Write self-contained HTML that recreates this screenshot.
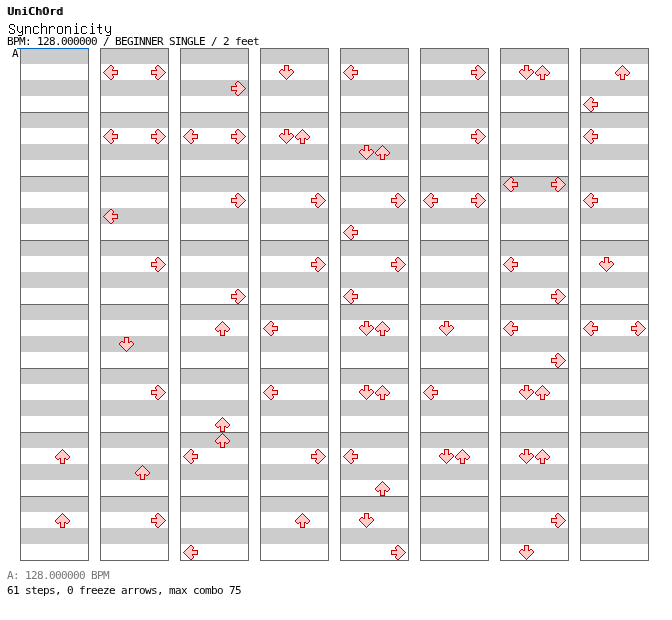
<!DOCTYPE html>
<html><head><meta charset="utf-8"><title>Synchronicity</title><style>
html,body{margin:0;padding:0;background:#fff}
body{width:672px;height:620px;position:relative;overflow:hidden;color:#000}
.t{position:absolute;left:8px;white-space:pre;margin:0;will-change:transform}
.h1{font:11px/14px 'DejaVu Sans Mono',monospace;top:5px;left:7px;letter-spacing:0.38px;text-shadow:1px 0 0 #000}
.h2{font:16px/16px 'Unifont','IPAGothic',monospace;top:20px}
.s{font:11px/12px 'DejaVu Sans Mono',monospace;letter-spacing:-0.62px}
.h3{top:36px;left:7px}
.f1{top:570px;left:7px;color:#777}
.f2{top:585px;left:7px}
.lbl{left:12px;top:48px}
.b{position:absolute;width:69px;height:65px;box-sizing:border-box;border:1px solid #666;
background:linear-gradient(#ccc 0 15px,#fff 15px 31px,#ccc 31px 47px,#fff 47px)}
.bl{position:absolute;left:17px;top:48px;width:72px;height:1px;background:#0066cc}
i{position:absolute;width:1px;height:1px;display:block}
.L{box-shadow:1px 8px #cc0000,2px 7px #cc0000,2px 9px #cc0000,3px 6px #cc0000,3px 10px #cc0000,4px 5px #cc0000,4px 11px #cc0000,5px 4px #cc0000,5px 12px #cc0000,6px 3px #cc0000,6px 13px #cc0000,7px 2px #cc0000,7px 14px #cc0000,8px 1px #cc0000,8px 15px #cc0000,9px 1px #cc0000,9px 15px #cc0000,10px 2px #cc0000,10px 5px #cc0000,10px 6px #cc0000,10px 10px #cc0000,10px 11px #cc0000,10px 14px #cc0000,11px 3px #cc0000,11px 4px #cc0000,11px 6px #cc0000,11px 10px #cc0000,11px 12px #cc0000,11px 13px #cc0000,12px 6px #cc0000,12px 10px #cc0000,13px 6px #cc0000,13px 10px #cc0000,14px 6px #cc0000,14px 10px #cc0000,15px 6px #cc0000,15px 7px #cc0000,15px 8px #cc0000,15px 9px #cc0000,15px 10px #cc0000,2px 8px #ffcccc,3px 7px #ffcccc,3px 9px #ffcccc,4px 6px #ffcccc,4px 10px #ffcccc,5px 5px #ffcccc,5px 11px #ffcccc,6px 4px #ffcccc,6px 12px #ffcccc,7px 3px #ffcccc,7px 13px #ffcccc,8px 2px #ffcccc,8px 14px #ffcccc,9px 2px #ffcccc,9px 5px #ffcccc,9px 6px #ffcccc,9px 10px #ffcccc,9px 11px #ffcccc,9px 14px #ffcccc,10px 3px #ffcccc,10px 4px #ffcccc,10px 7px #ffcccc,10px 9px #ffcccc,10px 12px #ffcccc,10px 13px #ffcccc,11px 7px #ffcccc,11px 9px #ffcccc,12px 7px #ffcccc,12px 9px #ffcccc,13px 7px #ffcccc,13px 9px #ffcccc,14px 7px #ffcccc,14px 8px #ffcccc,14px 9px #ffcccc,3px 8px #ffcccc,4px 7px #ffcccc,4px 8px #ffcccc,4px 9px #ffcccc,5px 6px #ffcccc,5px 7px #ffcccc,5px 8px #ffcccc,5px 9px #ffcccc,5px 10px #ffcccc,6px 5px #ffcccc,6px 6px #ffcccc,6px 7px #ffcccc,6px 8px #ffcccc,6px 9px #ffcccc,6px 10px #ffcccc,6px 11px #ffcccc,7px 4px #ffcccc,7px 5px #ffcccc,7px 6px #ffcccc,7px 7px #ffcccc,7px 8px #ffcccc,7px 9px #ffcccc,7px 10px #ffcccc,7px 11px #ffcccc,7px 12px #ffcccc,8px 3px #ffcccc,8px 4px #ffcccc,8px 5px #ffcccc,8px 6px #ffcccc,8px 7px #ffcccc,8px 8px #ffcccc,8px 9px #ffcccc,8px 10px #ffcccc,8px 11px #ffcccc,8px 12px #ffcccc,8px 13px #ffcccc,9px 3px #ffcccc,9px 4px #ffcccc,9px 7px #ffcccc,9px 8px #ffcccc,9px 9px #ffcccc,9px 12px #ffcccc,9px 13px #ffcccc,10px 8px #ffcccc,11px 8px #ffcccc,12px 8px #ffcccc,13px 8px #ffcccc}
.R{box-shadow:15px 8px #cc0000,14px 7px #cc0000,14px 9px #cc0000,13px 6px #cc0000,13px 10px #cc0000,12px 5px #cc0000,12px 11px #cc0000,11px 4px #cc0000,11px 12px #cc0000,10px 3px #cc0000,10px 13px #cc0000,9px 2px #cc0000,9px 14px #cc0000,8px 1px #cc0000,8px 15px #cc0000,7px 1px #cc0000,7px 15px #cc0000,6px 2px #cc0000,6px 5px #cc0000,6px 6px #cc0000,6px 10px #cc0000,6px 11px #cc0000,6px 14px #cc0000,5px 3px #cc0000,5px 4px #cc0000,5px 6px #cc0000,5px 10px #cc0000,5px 12px #cc0000,5px 13px #cc0000,4px 6px #cc0000,4px 10px #cc0000,3px 6px #cc0000,3px 10px #cc0000,2px 6px #cc0000,2px 10px #cc0000,1px 6px #cc0000,1px 7px #cc0000,1px 8px #cc0000,1px 9px #cc0000,1px 10px #cc0000,14px 8px #ffcccc,13px 7px #ffcccc,13px 9px #ffcccc,12px 6px #ffcccc,12px 10px #ffcccc,11px 5px #ffcccc,11px 11px #ffcccc,10px 4px #ffcccc,10px 12px #ffcccc,9px 3px #ffcccc,9px 13px #ffcccc,8px 2px #ffcccc,8px 14px #ffcccc,7px 2px #ffcccc,7px 5px #ffcccc,7px 6px #ffcccc,7px 10px #ffcccc,7px 11px #ffcccc,7px 14px #ffcccc,6px 3px #ffcccc,6px 4px #ffcccc,6px 7px #ffcccc,6px 9px #ffcccc,6px 12px #ffcccc,6px 13px #ffcccc,5px 7px #ffcccc,5px 9px #ffcccc,4px 7px #ffcccc,4px 9px #ffcccc,3px 7px #ffcccc,3px 9px #ffcccc,2px 7px #ffcccc,2px 8px #ffcccc,2px 9px #ffcccc,13px 8px #ffcccc,12px 7px #ffcccc,12px 8px #ffcccc,12px 9px #ffcccc,11px 6px #ffcccc,11px 7px #ffcccc,11px 8px #ffcccc,11px 9px #ffcccc,11px 10px #ffcccc,10px 5px #ffcccc,10px 6px #ffcccc,10px 7px #ffcccc,10px 8px #ffcccc,10px 9px #ffcccc,10px 10px #ffcccc,10px 11px #ffcccc,9px 4px #ffcccc,9px 5px #ffcccc,9px 6px #ffcccc,9px 7px #ffcccc,9px 8px #ffcccc,9px 9px #ffcccc,9px 10px #ffcccc,9px 11px #ffcccc,9px 12px #ffcccc,8px 3px #ffcccc,8px 4px #ffcccc,8px 5px #ffcccc,8px 6px #ffcccc,8px 7px #ffcccc,8px 8px #ffcccc,8px 9px #ffcccc,8px 10px #ffcccc,8px 11px #ffcccc,8px 12px #ffcccc,8px 13px #ffcccc,7px 3px #ffcccc,7px 4px #ffcccc,7px 7px #ffcccc,7px 8px #ffcccc,7px 9px #ffcccc,7px 12px #ffcccc,7px 13px #ffcccc,6px 8px #ffcccc,5px 8px #ffcccc,4px 8px #ffcccc,3px 8px #ffcccc}
.U{box-shadow:8px 1px #cc0000,7px 2px #cc0000,9px 2px #cc0000,6px 3px #cc0000,10px 3px #cc0000,5px 4px #cc0000,11px 4px #cc0000,4px 5px #cc0000,12px 5px #cc0000,3px 6px #cc0000,13px 6px #cc0000,2px 7px #cc0000,14px 7px #cc0000,1px 8px #cc0000,15px 8px #cc0000,1px 9px #cc0000,15px 9px #cc0000,2px 10px #cc0000,5px 10px #cc0000,6px 10px #cc0000,10px 10px #cc0000,11px 10px #cc0000,14px 10px #cc0000,3px 11px #cc0000,4px 11px #cc0000,6px 11px #cc0000,10px 11px #cc0000,12px 11px #cc0000,13px 11px #cc0000,6px 12px #cc0000,10px 12px #cc0000,6px 13px #cc0000,10px 13px #cc0000,6px 14px #cc0000,10px 14px #cc0000,6px 15px #cc0000,7px 15px #cc0000,8px 15px #cc0000,9px 15px #cc0000,10px 15px #cc0000,8px 2px #ffcccc,7px 3px #ffcccc,9px 3px #ffcccc,6px 4px #ffcccc,10px 4px #ffcccc,5px 5px #ffcccc,11px 5px #ffcccc,4px 6px #ffcccc,12px 6px #ffcccc,3px 7px #ffcccc,13px 7px #ffcccc,2px 8px #ffcccc,14px 8px #ffcccc,2px 9px #ffcccc,5px 9px #ffcccc,6px 9px #ffcccc,10px 9px #ffcccc,11px 9px #ffcccc,14px 9px #ffcccc,3px 10px #ffcccc,4px 10px #ffcccc,7px 10px #ffcccc,9px 10px #ffcccc,12px 10px #ffcccc,13px 10px #ffcccc,7px 11px #ffcccc,9px 11px #ffcccc,7px 12px #ffcccc,9px 12px #ffcccc,7px 13px #ffcccc,9px 13px #ffcccc,7px 14px #ffcccc,8px 14px #ffcccc,9px 14px #ffcccc,8px 3px #ffcccc,7px 4px #ffcccc,8px 4px #ffcccc,9px 4px #ffcccc,6px 5px #ffcccc,7px 5px #ffcccc,8px 5px #ffcccc,9px 5px #ffcccc,10px 5px #ffcccc,5px 6px #ffcccc,6px 6px #ffcccc,7px 6px #ffcccc,8px 6px #ffcccc,9px 6px #ffcccc,10px 6px #ffcccc,11px 6px #ffcccc,4px 7px #ffcccc,5px 7px #ffcccc,6px 7px #ffcccc,7px 7px #ffcccc,8px 7px #ffcccc,9px 7px #ffcccc,10px 7px #ffcccc,11px 7px #ffcccc,12px 7px #ffcccc,3px 8px #ffcccc,4px 8px #ffcccc,5px 8px #ffcccc,6px 8px #ffcccc,7px 8px #ffcccc,8px 8px #ffcccc,9px 8px #ffcccc,10px 8px #ffcccc,11px 8px #ffcccc,12px 8px #ffcccc,13px 8px #ffcccc,3px 9px #ffcccc,4px 9px #ffcccc,7px 9px #ffcccc,8px 9px #ffcccc,9px 9px #ffcccc,12px 9px #ffcccc,13px 9px #ffcccc,8px 10px #ffcccc,8px 11px #ffcccc,8px 12px #ffcccc,8px 13px #ffcccc}
.D{box-shadow:8px 15px #cc0000,7px 14px #cc0000,9px 14px #cc0000,6px 13px #cc0000,10px 13px #cc0000,5px 12px #cc0000,11px 12px #cc0000,4px 11px #cc0000,12px 11px #cc0000,3px 10px #cc0000,13px 10px #cc0000,2px 9px #cc0000,14px 9px #cc0000,1px 8px #cc0000,15px 8px #cc0000,1px 7px #cc0000,15px 7px #cc0000,2px 6px #cc0000,5px 6px #cc0000,6px 6px #cc0000,10px 6px #cc0000,11px 6px #cc0000,14px 6px #cc0000,3px 5px #cc0000,4px 5px #cc0000,6px 5px #cc0000,10px 5px #cc0000,12px 5px #cc0000,13px 5px #cc0000,6px 4px #cc0000,10px 4px #cc0000,6px 3px #cc0000,10px 3px #cc0000,6px 2px #cc0000,10px 2px #cc0000,6px 1px #cc0000,7px 1px #cc0000,8px 1px #cc0000,9px 1px #cc0000,10px 1px #cc0000,8px 14px #ffcccc,7px 13px #ffcccc,9px 13px #ffcccc,6px 12px #ffcccc,10px 12px #ffcccc,5px 11px #ffcccc,11px 11px #ffcccc,4px 10px #ffcccc,12px 10px #ffcccc,3px 9px #ffcccc,13px 9px #ffcccc,2px 8px #ffcccc,14px 8px #ffcccc,2px 7px #ffcccc,5px 7px #ffcccc,6px 7px #ffcccc,10px 7px #ffcccc,11px 7px #ffcccc,14px 7px #ffcccc,3px 6px #ffcccc,4px 6px #ffcccc,7px 6px #ffcccc,9px 6px #ffcccc,12px 6px #ffcccc,13px 6px #ffcccc,7px 5px #ffcccc,9px 5px #ffcccc,7px 4px #ffcccc,9px 4px #ffcccc,7px 3px #ffcccc,9px 3px #ffcccc,7px 2px #ffcccc,8px 2px #ffcccc,9px 2px #ffcccc,8px 13px #ffcccc,7px 12px #ffcccc,8px 12px #ffcccc,9px 12px #ffcccc,6px 11px #ffcccc,7px 11px #ffcccc,8px 11px #ffcccc,9px 11px #ffcccc,10px 11px #ffcccc,5px 10px #ffcccc,6px 10px #ffcccc,7px 10px #ffcccc,8px 10px #ffcccc,9px 10px #ffcccc,10px 10px #ffcccc,11px 10px #ffcccc,4px 9px #ffcccc,5px 9px #ffcccc,6px 9px #ffcccc,7px 9px #ffcccc,8px 9px #ffcccc,9px 9px #ffcccc,10px 9px #ffcccc,11px 9px #ffcccc,12px 9px #ffcccc,3px 8px #ffcccc,4px 8px #ffcccc,5px 8px #ffcccc,6px 8px #ffcccc,7px 8px #ffcccc,8px 8px #ffcccc,9px 8px #ffcccc,10px 8px #ffcccc,11px 8px #ffcccc,12px 8px #ffcccc,13px 8px #ffcccc,3px 7px #ffcccc,4px 7px #ffcccc,7px 7px #ffcccc,8px 7px #ffcccc,9px 7px #ffcccc,12px 7px #ffcccc,13px 7px #ffcccc,8px 6px #ffcccc,8px 5px #ffcccc,8px 4px #ffcccc,8px 3px #ffcccc}
</style></head>
<body>
<div class="t h1">UniChOrd</div>
<div class="t h2">Synchronicity</div>
<div class="t s h3">BPM: 128.000000 / BEGINNER SINGLE / 2 feet</div>
<div class="b" style="left:20px;top:48px"></div><div class="b" style="left:20px;top:112px"></div><div class="b" style="left:20px;top:176px"></div><div class="b" style="left:20px;top:240px"></div><div class="b" style="left:20px;top:304px"></div><div class="b" style="left:20px;top:368px"></div><div class="b" style="left:20px;top:432px"></div><div class="b" style="left:20px;top:496px"></div><div class="b" style="left:100px;top:48px"></div><div class="b" style="left:100px;top:112px"></div><div class="b" style="left:100px;top:176px"></div><div class="b" style="left:100px;top:240px"></div><div class="b" style="left:100px;top:304px"></div><div class="b" style="left:100px;top:368px"></div><div class="b" style="left:100px;top:432px"></div><div class="b" style="left:100px;top:496px"></div><div class="b" style="left:180px;top:48px"></div><div class="b" style="left:180px;top:112px"></div><div class="b" style="left:180px;top:176px"></div><div class="b" style="left:180px;top:240px"></div><div class="b" style="left:180px;top:304px"></div><div class="b" style="left:180px;top:368px"></div><div class="b" style="left:180px;top:432px"></div><div class="b" style="left:180px;top:496px"></div><div class="b" style="left:260px;top:48px"></div><div class="b" style="left:260px;top:112px"></div><div class="b" style="left:260px;top:176px"></div><div class="b" style="left:260px;top:240px"></div><div class="b" style="left:260px;top:304px"></div><div class="b" style="left:260px;top:368px"></div><div class="b" style="left:260px;top:432px"></div><div class="b" style="left:260px;top:496px"></div><div class="b" style="left:340px;top:48px"></div><div class="b" style="left:340px;top:112px"></div><div class="b" style="left:340px;top:176px"></div><div class="b" style="left:340px;top:240px"></div><div class="b" style="left:340px;top:304px"></div><div class="b" style="left:340px;top:368px"></div><div class="b" style="left:340px;top:432px"></div><div class="b" style="left:340px;top:496px"></div><div class="b" style="left:420px;top:48px"></div><div class="b" style="left:420px;top:112px"></div><div class="b" style="left:420px;top:176px"></div><div class="b" style="left:420px;top:240px"></div><div class="b" style="left:420px;top:304px"></div><div class="b" style="left:420px;top:368px"></div><div class="b" style="left:420px;top:432px"></div><div class="b" style="left:420px;top:496px"></div><div class="b" style="left:500px;top:48px"></div><div class="b" style="left:500px;top:112px"></div><div class="b" style="left:500px;top:176px"></div><div class="b" style="left:500px;top:240px"></div><div class="b" style="left:500px;top:304px"></div><div class="b" style="left:500px;top:368px"></div><div class="b" style="left:500px;top:432px"></div><div class="b" style="left:500px;top:496px"></div><div class="b" style="left:580px;top:48px"></div><div class="b" style="left:580px;top:112px"></div><div class="b" style="left:580px;top:176px"></div><div class="b" style="left:580px;top:240px"></div><div class="b" style="left:580px;top:304px"></div><div class="b" style="left:580px;top:368px"></div><div class="b" style="left:580px;top:432px"></div><div class="b" style="left:580px;top:496px"></div>
<div class="bl"></div>
<div class="t s lbl">A</div>
<i class="U" style="left:54px;top:448px"></i><i class="U" style="left:54px;top:512px"></i><i class="L" style="left:102px;top:64px"></i><i class="R" style="left:150px;top:64px"></i><i class="L" style="left:102px;top:128px"></i><i class="R" style="left:150px;top:128px"></i><i class="L" style="left:102px;top:208px"></i><i class="R" style="left:150px;top:256px"></i><i class="D" style="left:118px;top:336px"></i><i class="R" style="left:150px;top:384px"></i><i class="U" style="left:134px;top:464px"></i><i class="R" style="left:150px;top:512px"></i><i class="R" style="left:230px;top:80px"></i><i class="L" style="left:182px;top:128px"></i><i class="R" style="left:230px;top:128px"></i><i class="R" style="left:230px;top:192px"></i><i class="R" style="left:230px;top:288px"></i><i class="U" style="left:214px;top:320px"></i><i class="U" style="left:214px;top:416px"></i><i class="U" style="left:214px;top:432px"></i><i class="L" style="left:182px;top:448px"></i><i class="L" style="left:182px;top:544px"></i><i class="D" style="left:278px;top:64px"></i><i class="D" style="left:278px;top:128px"></i><i class="U" style="left:294px;top:128px"></i><i class="R" style="left:310px;top:192px"></i><i class="R" style="left:310px;top:256px"></i><i class="L" style="left:262px;top:320px"></i><i class="L" style="left:262px;top:384px"></i><i class="R" style="left:310px;top:448px"></i><i class="U" style="left:294px;top:512px"></i><i class="L" style="left:342px;top:64px"></i><i class="D" style="left:358px;top:144px"></i><i class="U" style="left:374px;top:144px"></i><i class="R" style="left:390px;top:192px"></i><i class="L" style="left:342px;top:224px"></i><i class="R" style="left:390px;top:256px"></i><i class="L" style="left:342px;top:288px"></i><i class="D" style="left:358px;top:320px"></i><i class="U" style="left:374px;top:320px"></i><i class="D" style="left:358px;top:384px"></i><i class="U" style="left:374px;top:384px"></i><i class="L" style="left:342px;top:448px"></i><i class="U" style="left:374px;top:480px"></i><i class="D" style="left:358px;top:512px"></i><i class="R" style="left:390px;top:544px"></i><i class="R" style="left:470px;top:64px"></i><i class="R" style="left:470px;top:128px"></i><i class="L" style="left:422px;top:192px"></i><i class="R" style="left:470px;top:192px"></i><i class="D" style="left:438px;top:320px"></i><i class="L" style="left:422px;top:384px"></i><i class="D" style="left:438px;top:448px"></i><i class="U" style="left:454px;top:448px"></i><i class="D" style="left:518px;top:64px"></i><i class="U" style="left:534px;top:64px"></i><i class="L" style="left:502px;top:176px"></i><i class="R" style="left:550px;top:176px"></i><i class="L" style="left:502px;top:256px"></i><i class="R" style="left:550px;top:288px"></i><i class="L" style="left:502px;top:320px"></i><i class="R" style="left:550px;top:352px"></i><i class="D" style="left:518px;top:384px"></i><i class="U" style="left:534px;top:384px"></i><i class="D" style="left:518px;top:448px"></i><i class="U" style="left:534px;top:448px"></i><i class="R" style="left:550px;top:512px"></i><i class="D" style="left:518px;top:544px"></i><i class="U" style="left:614px;top:64px"></i><i class="L" style="left:582px;top:96px"></i><i class="L" style="left:582px;top:128px"></i><i class="L" style="left:582px;top:192px"></i><i class="D" style="left:598px;top:256px"></i><i class="L" style="left:582px;top:320px"></i><i class="R" style="left:630px;top:320px"></i>
<div class="t s f1">A: 128.000000 BPM</div>
<div class="t s f2">61 steps, 0 freeze arrows, max combo 75</div>
</body></html>
